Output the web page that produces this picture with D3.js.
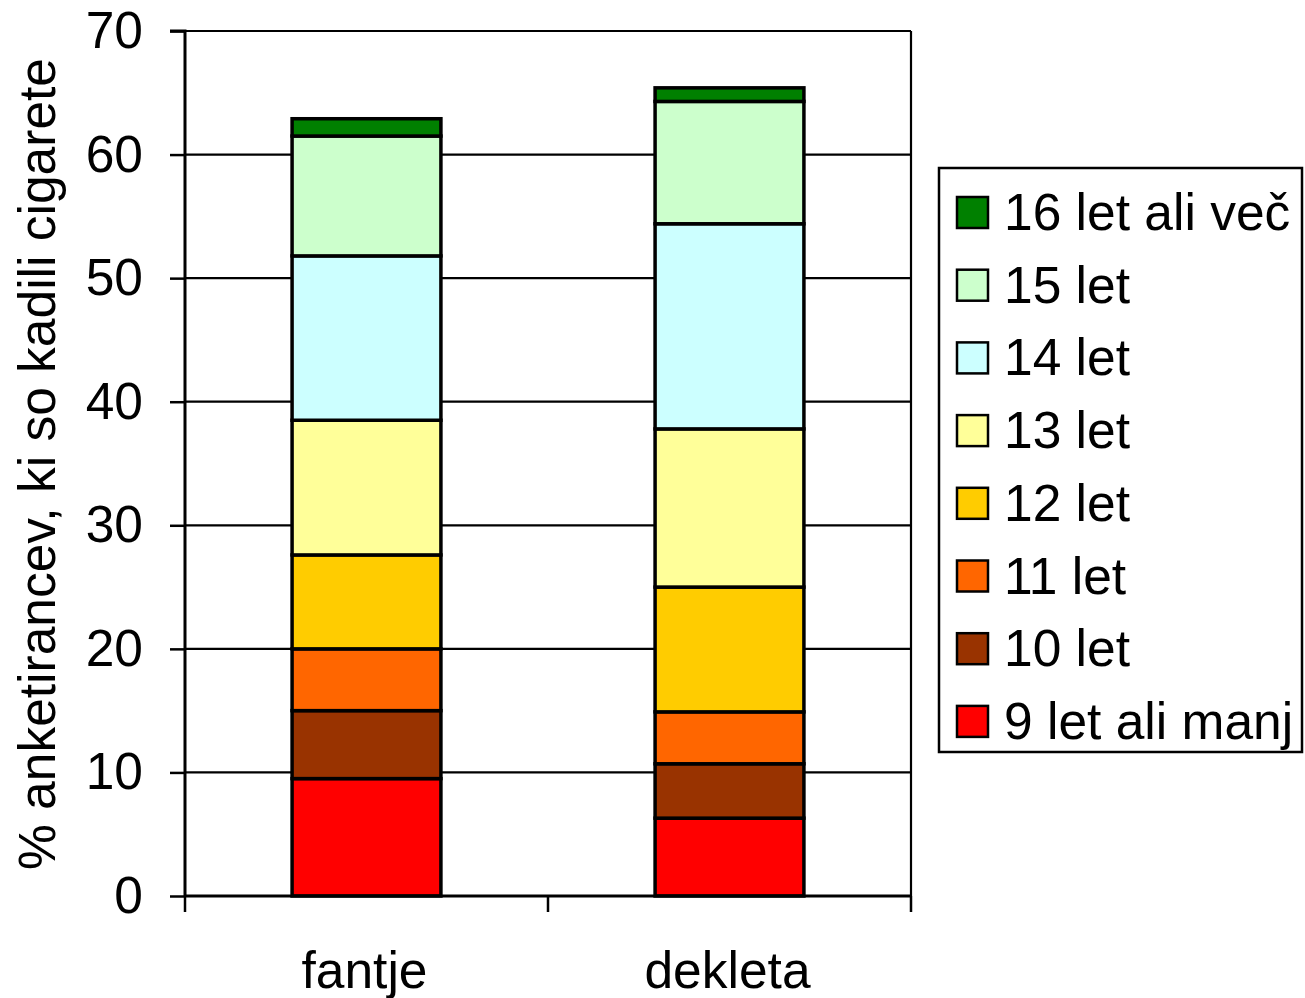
<!DOCTYPE html>
<html><head><meta charset="utf-8">
<script src="https://cdn.jsdelivr.net/npm/d3@7"></script>
<style>body{margin:0;background:#fff}svg{display:block}text{font-family:"Liberation Sans",Arial,sans-serif;fill:#000}</style>
</head><body><div id="c"></div>
<script>
const categories = ["fantje", "dekleta"];
const seriesNames = ["9 let ali manj", "10 let", "11 let", "12 let", "13 let", "14 let", "15 let", "16 let ali več"];
const seriesColors = ["#FF0000", "#993300", "#FF6600", "#FFCC00", "#FFFF99", "#CCFFFF", "#CCFFCC", "#008000"];
const fantje = [9.5, 5.5, 5.0, 7.6, 10.9, 13.3, 9.7, 1.4];
const dekleta = [6.3, 4.4, 4.2, 10.1, 12.8, 16.6, 9.9, 1.1];
const yTicks = [0, 10, 20, 30, 40, 50, 60, 70];
const yTitle = "% anketirancev, ki so kadili cigarete";

const W = 1305, H = 998;
const FS = 51.5;
const m = {left: 185, right: 911, top: 31, bottom: 896};
const svg = d3.select("#c").append("svg").attr("width", W).attr("height", H);

const x = d3.scaleBand().domain(categories).range([m.left, m.right]).paddingInner(0).paddingOuter(0);
const y = d3.scaleLinear().domain([0, 70]).range([m.bottom, m.top]);
const barW = x.bandwidth() * 0.41;

// gridlines
svg.append("g").selectAll("line").data(yTicks.filter(d => d > 0)).join("line")
  .attr("x1", m.left).attr("x2", m.right).attr("y1", d => y(d)).attr("y2", d => y(d))
  .attr("stroke", "#000").attr("stroke-width", 2.2);
// right border
svg.append("line").attr("x1", m.right).attr("x2", m.right).attr("y1", m.top).attr("y2", m.bottom)
  .attr("stroke", "#000").attr("stroke-width", 2.2);

// stacked data
const valuesByCat = {fantje: fantje, dekleta: dekleta};
const rows = categories.map(c => {
  const o = {cat: c};
  seriesNames.forEach((s, i) => o[s] = valuesByCat[c][i]);
  return o;
});
const stacked = d3.stack().keys(seriesNames)(rows);
const color = d3.scaleOrdinal().domain(seriesNames).range(seriesColors);

svg.append("g").selectAll("g").data(stacked).join("g")
  .attr("fill", d => color(d.key))
  .selectAll("rect").data(d => d).join("rect")
  .attr("x", d => x(d.data.cat) + (x.bandwidth() - barW) / 2)
  .attr("width", barW)
  .attr("y", d => y(d[1]))
  .attr("height", d => y(d[0]) - y(d[1]))
  .attr("stroke", "#000").attr("stroke-width", 3.5);

// y axis
const yAxis = svg.append("g").attr("transform", `translate(${m.left},0)`)
  .call(d3.axisLeft(y).tickValues(yTicks).tickSize(15).tickPadding(27).tickFormat(d3.format("d")));
yAxis.select(".domain").attr("stroke", "#000").attr("stroke-width", 3).attr("d", `M-15,${m.top}H0V${m.bottom}`);
yAxis.selectAll(".tick line").attr("stroke", "#000").attr("stroke-width", 2.5);
yAxis.selectAll("text").attr("font-size", FS).attr("font-family", '"Liberation Sans",Arial,sans-serif').attr("fill", "#000");

// x axis
const xAxis = svg.append("g").attr("transform", `translate(0,${m.bottom})`);
xAxis.append("line").attr("x1", m.left).attr("x2", m.right).attr("y1", 0).attr("y2", 0)
  .attr("stroke", "#000").attr("stroke-width", 3);
const bounds = categories.map(c => x(c)).concat([m.right]);
xAxis.selectAll("line.tk").data(bounds).join("line").attr("class", "tk")
  .attr("x1", d => d).attr("x2", d => d).attr("y1", 0).attr("y2", 16)
  .attr("stroke", "#000").attr("stroke-width", 2.5);
xAxis.selectAll("text").data(categories).join("text")
  .attr("x", d => x(d) + x.bandwidth() / 2 - 2).attr("y", 92)
  .attr("text-anchor", "middle").attr("font-size", FS).text(d => d);

// y title
svg.append("text").attr("transform", `translate(55,464) rotate(-90)`)
  .attr("text-anchor", "middle").attr("font-size", FS).text(yTitle);

// legend
const lg = svg.append("g");
lg.append("rect").attr("x", 939).attr("y", 168).attr("width", 363).attr("height", 584)
  .attr("fill", "#fff").attr("stroke", "#000").attr("stroke-width", 2.5);
const legendOrder = seriesNames.slice().reverse();
const item = lg.selectAll("g.it").data(legendOrder).join("g").attr("class", "it")
  .attr("transform", (d, i) => `translate(957,${212 + i * 72.7})`);
item.append("rect").attr("x", 0).attr("y", -15).attr("width", 31).attr("height", 31)
  .attr("fill", d => color(d)).attr("stroke", "#000").attr("stroke-width", 2.5);
item.append("text").attr("x", 47).attr("y", 0).attr("dy", "0.35em").attr("font-size", FS).text(d => d);
</script></body></html>
